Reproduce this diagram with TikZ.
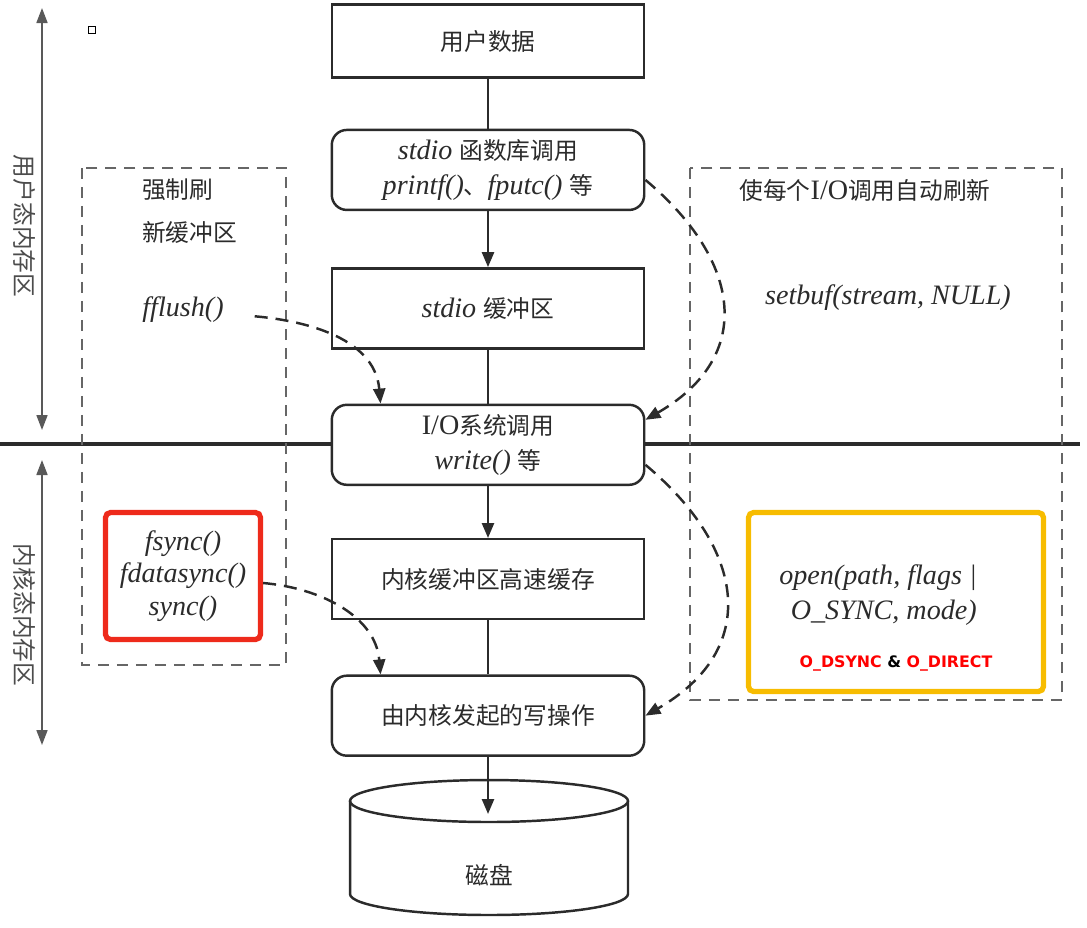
\documentclass[tikz,border=0pt]{standalone}
\usepackage{fontspec}
\setmainfont{Liberation Serif}
\newfontfamily\cjk{Noto Sans CJK SC}
\newfontfamily\flagfont{DejaVu Sans}
\usepackage{xcolor}
\usetikzlibrary{arrows.meta,positioning,backgrounds}
\definecolor{Ink}{HTML}{2B2B2B}
\definecolor{MarkRed}{HTML}{EE2A1B}
\definecolor{MarkGold}{HTML}{F7BC00}
\definecolor{FlagRed}{HTML}{FF0000}
\newcommand{\zh}[1]{{\cjk\fontsize{13.5}{19}\selectfont #1}}

\begin{document}
\begin{tikzpicture}[x=0.02cm,y=-0.02cm,font=\fontsize{16}{20}\selectfont,
  >={Triangle[length=3mm,width=2.4mm]},node distance=1.1cm,
  sqbox/.style={draw=Ink,line width=1.4pt,fill=white,text=Ink,align=center,
    minimum width=6.25cm,minimum height=1.6cm},
  rndbox/.style={sqbox,rounded corners=3mm},
  diskline/.style={draw=Ink,line width=1.4pt},
  flow/.style={draw=Ink,line width=1.4pt},
  dflow/.style={->,draw=Ink,line width=1.4pt,dash pattern=on 2.6mm off 1.6mm},
  zonebox/.style={draw=black!60,line width=0.9pt,dash pattern=on 2.2mm off 1.6mm},
  zone/.style={{Triangle[length=3mm,width=2.2mm]}-{Triangle[length=3mm,width=2.2mm]},
    draw=black!65,line width=1pt},
  txt/.style={text=Ink},
  syncbox/.style={draw=MarkRed,line width=3pt,rounded corners=1mm,text=Ink,align=center,
    minimum width=3.1cm,minimum height=2.54cm,font=\fontsize{16}{18.5}\selectfont},
  goldbox/.style={draw=MarkGold,line width=3pt,rounded corners=1mm,
    minimum width=5.9cm,minimum height=3.58cm}]
  \useasboundingbox (0,0) rectangle (1087,927);

  % main column
  \node[sqbox,minimum height=1.46cm] (user) at (488,41) {\zh{用户数据}};
  \node[rndbox,below=1cm of user] (call) {\textit{stdio} \zh{函数库调用}\\\textit{printf()}\zh{、}\textit{fputc()} \zh{等}};
  \node[sqbox,below=1.12cm of call] (sbuf) {\textit{stdio} \zh{缓冲区}};
  \node[rndbox,below=1.08cm of sbuf] (sys) {I/O\zh{系统调用}\\\textit{write()} \zh{等}};
  \node[sqbox,below=1.04cm of sys] (kbuf) {\zh{内核缓冲区高速缓存}};
  \node[rndbox,below=1.08cm of kbuf] (kwrite) {\zh{由内核发起的写操作}};

  % disk
  \coordinate (disktop) at (489,801);
  \coordinate (diskbot) at (489,894);
  \coordinate (disktip) at (488,814);
  \draw[diskline] (disktop) ellipse[x radius=2.78cm,y radius=0.42cm];
  \draw[diskline] ([xshift=-2.78cm]disktop) -- ([xshift=-2.78cm]diskbot)
    arc[start angle=180,end angle=360,x radius=2.78cm,y radius=0.42cm]
    -- ([xshift=2.78cm]disktop);
  \node[txt] (disk) at (489,875) {\zh{磁盘}};

  % user / kernel split
  \coordinate (splitl) at (0,444);
  \coordinate (splitr) at (1080,444);
  \begin{scope}[on background layer]
    \draw[draw=Ink,line width=2pt] (splitl) -- (splitr);
  \end{scope}
  \coordinate (utop) at (42,8);
  \coordinate (ubot) at (42,430);
  \coordinate (ktop) at (42,460);
  \coordinate (kbot) at (42,745);
  \draw[zone] (utop) -- (ubot);
  \draw[zone] (ktop) -- (kbot);
  \node[rotate=-90,text=black!70] (ulabel) at (25,226) {\zh{用户态内存区}};
  \node[rotate=-90,text=black!70] (klabel) at (25,615) {\zh{内核态内存区}};
  \node[draw,line width=0.5pt,minimum size=0.14cm,inner sep=0pt] (tick) at (92,30) {};

  % left group
  \draw[zonebox] (82,168) rectangle (286,665);
  \node[txt,anchor=west] (force1) at (136,190) {\zh{强制刷}};
  \node[txt,anchor=west] (force2) at (136,232) {\zh{新缓冲区}};
  \node[txt] (fflush) at (183,310) {\textit{fflush()}};
  \node[syncbox] (syncs) at (183,576) {\textit{fsync()}\\\textit{fdatasync()}\\\textit{sync()}};

  % right group
  \draw[zonebox] (690,168) rectangle (1062,700);
  \node[txt] (autoflush) at (865,190) {\zh{使每个}I/O\zh{调用自动刷新}};
  \node[txt] (setbuf) at (888,298) {\textit{setbuf(stream, NULL)}};
  \node[goldbox] (osync) at (896,602) {};
  \node[txt,align=right] (openc) at (878,595) {\textit{open(path, flags |}\\\textit{O\_SYNC, mode)}};
  \node (dflags) at (896,663) {\flagfont\bfseries\fontsize{9}{11}\selectfont
    \textcolor{FlagRed}{O\_DSYNC} \& \textcolor{FlagRed}{O\_DIRECT}};

  % data path
  \draw[flow] (user) -- (call);
  \draw[flow,->] (call) -- (sbuf);
  \draw[flow] (sbuf) -- (sys);
  \draw[flow,->] (sys) -- (kbuf);
  \draw[flow] (kbuf) -- (kwrite);
  \draw[flow,->] (kwrite) -- (disktip);

  % flush paths
  \draw[dflow,shorten <=0.5cm] (fflush) to[out=-5,in=95] ([xshift=1cm]sys.north west);
  \draw[dflow] (syncs) to[out=-5,in=95] ([xshift=1cm]kwrite.north west);
  \draw[dflow] ([yshift=-2mm]call.east) to[out=-40,in=30,looseness=1.35] ([yshift=5mm]sys.east);
  \draw[dflow] ([yshift=-4mm]sys.east) to[out=-40,in=30,looseness=1.35] (kwrite.east);
\end{tikzpicture}
\end{document}
